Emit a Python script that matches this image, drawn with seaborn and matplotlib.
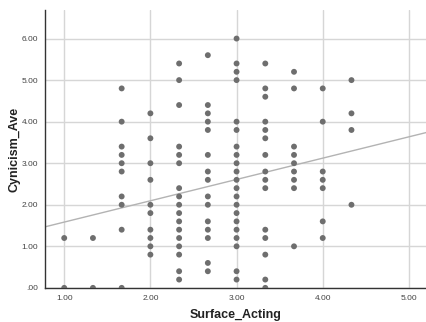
import numpy as np
import pandas as pd
import matplotlib
matplotlib.use("Agg")
import matplotlib.pyplot as plt
import seaborn as sns
from matplotlib.ticker import FuncFormatter

# Surface acting score levels and the cynicism scores observed at each level
surface_levels = [1.00, 4/3, 5/3, 2.00, 7/3, 8/3, 3.00, 10/3, 11/3, 4.00, 13/3]
cynicism_by_level = [
    [1.2, 0.0],
    [1.2, 0.0],
    [4.8, 4.0, 3.4, 3.2, 3.0, 2.8, 2.2, 2.0, 1.4, 0.0],
    [4.2, 3.6, 3.0, 2.6, 2.0, 1.8, 1.4, 1.2, 1.0, 0.8],
    [5.4, 5.0, 4.4, 3.4, 3.2, 3.0, 2.4, 2.2, 2.0, 1.8, 1.6, 1.4, 1.2, 1.0, 0.8, 0.4, 0.2],
    [5.6, 4.4, 4.2, 4.0, 3.8, 3.2, 2.8, 2.6, 2.2, 2.0, 1.6, 1.4, 1.2, 0.6, 0.4],
    [6.0, 5.4, 5.2, 5.0, 4.0, 3.8, 3.4, 3.2, 3.0, 2.8, 2.6, 2.4, 2.2, 2.0, 1.8, 1.6, 1.4, 1.2, 1.0, 0.4, 0.2],
    [5.4, 4.8, 4.6, 4.0, 3.8, 3.6, 3.2, 2.8, 2.6, 2.4, 1.4, 1.2, 0.8, 0.2, 0.0],
    [5.2, 4.8, 3.4, 3.2, 3.0, 2.8, 2.6, 2.4, 1.0],
    [4.8, 4.0, 2.8, 2.6, 2.4, 1.6, 1.2],
    [5.0, 4.2, 3.8, 2.0],
]
# Linear fit line (full sample, including overlapping cases)
fit_intercept = 1.07
fit_slope = 0.513

x_ticks = [1, 2, 3, 4, 5]
y_ticks = [0, 1, 2, 3, 4, 5, 6]
x_range = (0.78, 5.2)
y_range = (0, 6.68)

rows = [(x, y) for x, ys in zip(surface_levels, cynicism_by_level) for y in ys]
df = pd.DataFrame(rows, columns=["Surface_Acting", "Cynicism_Ave"])
fit_df = pd.DataFrame({"Surface_Acting": list(x_range)})
fit_df["Cynicism_Ave"] = fit_intercept + fit_slope * fit_df["Surface_Acting"]

sns.set_theme(style="white")
plt.rcParams["font.family"] = ["Liberation Sans", "DejaVu Sans"]

fig = plt.figure(figsize=(4.27, 3.22), dpi=100)
ax = fig.add_axes([0.106, 0.106, 0.892, 0.862])

sns.lineplot(data=fit_df, x="Surface_Acting", y="Cynicism_Ave", ax=ax,
             color="#b3b3b3", lw=1.0, zorder=2)
sns.scatterplot(data=df, x="Surface_Acting", y="Cynicism_Ave", ax=ax,
                s=18, color="#6e6e6e", edgecolor="none", zorder=3)

ax.set_xlim(*x_range)
ax.set_ylim(*y_range)
ax.set_xticks(x_ticks)
ax.set_yticks(y_ticks)
fmt = FuncFormatter(lambda v, p: f"{v:.2f}".lstrip("0") if v < 1 else f"{v:.2f}")
ax.xaxis.set_major_formatter(fmt)
ax.yaxis.set_major_formatter(fmt)
ax.tick_params(axis="both", length=0, labelsize=6, labelcolor="#444444", pad=5)

ax.grid(True, color="#d6d6d6", lw=1.0, zorder=0)
ax.set_axisbelow(True)

for side in ["top", "right"]:
    ax.spines[side].set_visible(False)
for side in ["left", "bottom"]:
    ax.spines[side].set_color("#333333")
    ax.spines[side].set_linewidth(1.0)

ax.set_xlabel("Surface_Acting", fontsize=9, fontweight="bold", color="#222222", labelpad=5)
ax.set_ylabel("Cynicism_Ave", fontsize=9, fontweight="bold", color="#222222", labelpad=1)

fig.savefig("out.png", dpi=100)
